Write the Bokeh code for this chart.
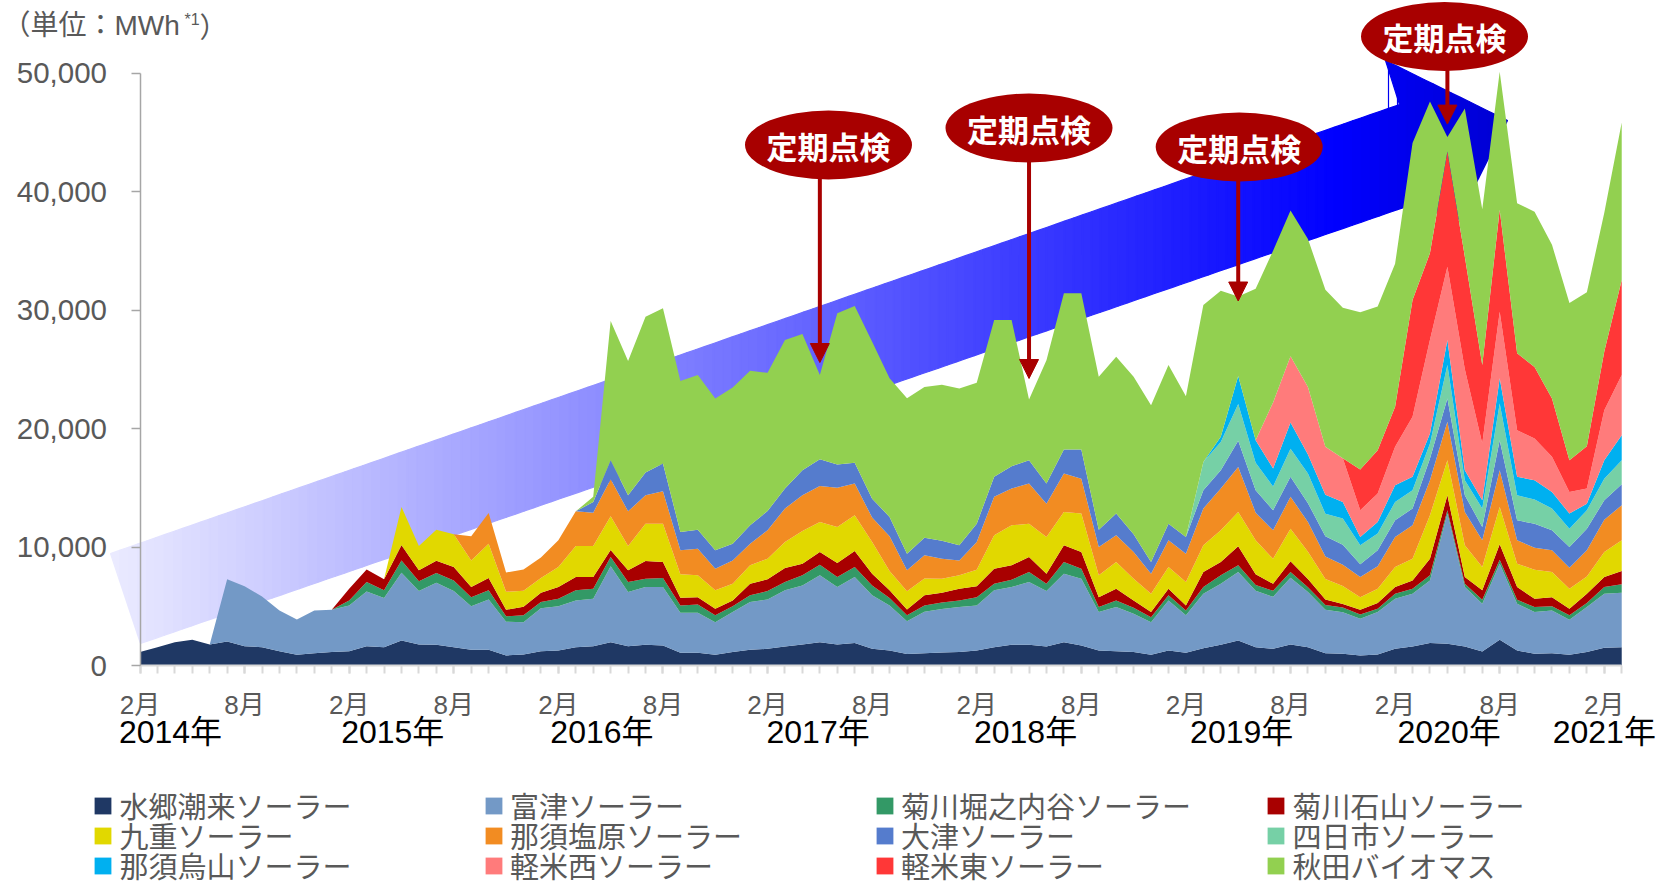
from bokeh.plotting import figure
from bokeh.models import (ColumnDataSource, Range1d, LinearAxis, FixedTicker,
                          NumeralTickFormatter, Legend, LegendItem, Label, Arrow, NormalHead)
from bokeh.embed import file_html
from bokeh.resources import INLINE

# ---------------- data (MWh per month, Feb 2014 .. Mar 2021) ----------------
months = list(range(86))
month_tick_pos = list(range(0, 86, 6))
month_tick_labels = ["2月", "8月"] * 7 + ["2月"]
year_labels = ["2014年", "2015年", "2016年", "2017年", "2018年", "2019年", "2020年", "2021年"]
year_label_pos = [1.75, 14.5, 26.5, 38.9, 50.8, 63.2, 75.1, 84.0]
y_ticks = [0, 10000, 20000, 30000, 40000, 50000]

names = ["水郷潮来ソーラー", "富津ソーラー", "菊川堀之内谷ソーラー", "菊川石山ソーラー",
         "九重ソーラー", "那須塩原ソーラー", "大津ソーラー", "四日市ソーラー",
         "那須烏山ソーラー", "軽米西ソーラー", "軽米東ソーラー", "秋田バイオマス"]

suigo_itako = [1130, 1550, 1970, 2170, 1770, 2030, 1630, 1550, 1210, 900,
               1040, 1130, 1210, 1630, 1550, 2110, 1770, 1750, 1550, 1320,
               1320, 850, 930, 1210, 1270, 1550, 1630, 1970, 1630, 1750,
               1690, 1070, 1070, 900, 1130, 1320, 1410, 1610, 1770, 1970,
               1770, 1890, 1410, 1270, 960, 1030, 1100, 1130, 1270, 1550,
               1750, 1750, 1610, 1970, 1690, 1270, 1210, 1130, 900, 1270,
               1070, 1460, 1750, 2110, 1550, 1410, 1770, 1550, 1040, 1000,
               850, 930, 1410, 1610, 1890, 1830, 1610, 1180, 2170, 1270,
               990, 1040, 900, 1130, 1490, 1550]
futtsu = [0, 0, 0, 0, 0, 5240, 5050, 4280, 3440, 2990,
          3610, 3570, 3860, 4620, 4140, 5720, 4510, 5240, 4730, 3690,
          4260, 2850, 2730, 3620, 3740, 3940, 4000, 6400, 4570, 4870,
          4930, 3380, 3380, 2760, 3380, 4030, 4170, 4730, 4990, 5640,
          4850, 5570, 4510, 3800, 2770, 3510, 3660, 3800, 3800, 4790,
          4870, 5290, 4670, 5780, 5630, 3240, 3720, 3240, 2760, 4220,
          3160, 4600, 5150, 5780, 4750, 4390, 5630, 4650, 3660, 3500,
          3090, 3580, 4220, 4450, 5290, 10990, 5010, 4030, 6420, 3940,
          3520, 3610, 2960, 3800, 4570, 4590]
kikugawa_horinouchi = [0, 0, 0, 0, 0, 0, 0, 0, 0, 0,
                       0, 0, 420, 790, 650, 1040, 820, 810, 900, 760,
                       760, 450, 570, 520, 620, 850, 850, 780, 840, 700,
                       760, 620, 700, 570, 480, 570, 700, 700, 850, 900,
                       840, 850, 840, 620, 500, 530, 560, 560, 700, 560,
                       620, 850, 620, 980, 850, 420, 560, 500, 420, 430,
                       420, 560, 710, 560, 500, 500, 500, 400, 400, 400,
                       370, 280, 430, 420, 430, 280, 280, 340, 340, 340,
                       420, 340, 370, 340, 560, 710]
kikugawa_ishiyama = [0, 0, 0, 0, 0, 0, 0, 0, 0, 0,
                     0, 0, 990, 1070, 930, 1270, 930, 1050, 1130, 850,
                     1040, 550, 730, 780, 990, 1120, 980, 600, 990, 1500,
                     1350, 650, 620, 560, 500, 980, 990, 1190, 980, 1070,
                     1190, 1350, 990, 650, 490, 850, 810, 990, 910, 1270,
                     1210, 1260, 850, 1410, 1410, 840, 990, 620, 430, 560,
                     420, 1270, 1120, 1610, 900, 600, 900, 700, 460, 300,
                     390, 480, 560, 700, 1390, 1270, 560, 790, 1300, 1070,
                     700, 780, 560, 790, 840, 1120]
kokonoe = [0, 0, 0, 0, 0, 0, 0, 0, 0, 0,
           0, 0, 0, 0, 0, 3240, 2050, 2610, 2760, 2250,
           2900, 1520, 1350, 1260, 1690, 2620, 2620, 2840, 2050, 3150,
           3240, 1970, 1840, 1550, 1410, 1550, 1740, 2190, 2760, 2530,
           3040, 3020, 2670, 1630, 1550, 1430, 1190, 1130, 1400, 2820,
           3380, 2820, 3100, 2820, 3240, 1840, 2250, 1830, 1550, 1830,
           1970, 2250, 2680, 2900, 2860, 2100, 2750, 2300, 1740, 1500,
           1070, 1210, 1690, 1830, 3680, 2950, 2680, 1970, 3150, 1970,
           2450, 2120, 1690, 1460, 2120, 2590]
nasu_shiobara = [0, 0, 0, 0, 0, 0, 0, 0, 0, 0,
                 0, 0, 0, 0, 0, 0, 0, 0, 0, 2030,
                 2590, 1630, 1800, 1720, 2250, 2930, 2820, 3130, 2930, 2400,
                 2730, 2030, 2250, 1830, 1970, 1830, 2400, 2820, 3020, 3040,
                 3320, 2670, 2060, 2930, 1760, 1950, 1680, 1260, 2340, 3240,
                 3100, 3380, 2810, 3240, 2950, 2390, 2260, 2260, 1690, 2250,
                 2400, 3100, 3520, 3800, 2340, 2410, 2680, 2500, 1900, 1800,
                 1690, 1890, 2540, 2820, 2950, 3240, 2820, 2250, 3100, 1970,
                 1860, 1830, 1770, 2200, 2730, 2960]
otsu = [0, 0, 0, 0, 0, 0, 0, 0, 0, 0,
        0, 0, 0, 0, 0, 0, 0, 0, 0, 0,
        0, 0, 0, 0, 0, 0, 900, 1600, 1360, 1910,
        2340, 1550, 1600, 1550, 1410, 1550, 1630, 1690, 2110, 2260,
        1950, 1750, 1600, 1640, 1410, 1480, 1520, 1270, 1550, 1690,
        1890, 1970, 1690, 2030, 2460, 1460, 1830, 1490, 980, 1410,
        1410, 1550, 1550, 2200, 1890, 1690, 1690, 1600, 1700, 1700,
        1080, 1350, 1400, 1410, 1830, 1980, 1410, 1130, 2530, 1690,
        2030, 1690, 1750, 1830, 1630, 1780]
yokkaichi = [0] * 60 + [0, 2390, 2390, 3100, 2310, 2000, 2380, 2500, 1900, 2200,
                        1600, 1410, 1550, 1550, 1270, 2810, 1260, 1550, 3100, 2120,
                        2030, 1830, 1550, 1550, 1830, 2020]
nasu_karasuyama = [0] * 60 + [0, 0, 430, 2360, 1910, 1520, 2200, 1600, 1600, 1400,
                              710, 980, 1410, 1130, 850, 2110, 850, 700, 2120, 1550,
                              1630, 1410, 1270, 560, 1550, 2120]
karumai_nishi = [0] * 60 + [0, 0, 0, 0, 0, 5580, 5600, 5700, 4050, 3700,
                            2250, 2400, 3240, 5070, 7920, 6200, 8520, 4790, 5630, 3940,
                            3520, 2960, 1830, 1270, 4230, 5070]
karumai_higashi = [0] * 70 + [3440, 3660, 3380, 9860, 7300, 9720, 9500, 6620, 8590, 6480,
                              6050, 4930, 2670, 3580, 4950, 8030]
akita_biomass = [0] * 20 + [0, 0, 0, 0, 0, 0, 430, 11750, 11320, 13160,
                            13100, 12730, 13050, 12820, 13180, 13040, 11660, 12530, 11490, 7100,
                            12760, 13240, 13240, 11690, 13120, 12720, 13180, 13240, 11890, 13230,
                            12330, 5130, 10420, 13180, 13180, 12910, 13240, 13300, 13240, 13380,
                            11880, 13240, 12330, 6710, 12790, 12800, 12300, 12500, 13250, 12700,
                            13260, 12130, 12070, 13250, 12800, 1220, 12500, 13150, 11650, 12660,
                            13100, 12960, 13280, 12990, 11700, 13290]

series = [suigo_itako, futtsu, kikugawa_horinouchi, kikugawa_ishiyama, kokonoe,
          nasu_shiobara, otsu, yokkaichi, nasu_karasuyama, karumai_nishi,
          karumai_higashi, akita_biomass]
for s in series:
    assert len(s) == 86, len(s)

colors = ["#1F3864", "#7399C6", "#339966", "#A80000", "#E1D800", "#F28C22",
          "#557CCD", "#76D0A6", "#00B0F0", "#FF7B7B", "#FF3737", "#92D050"]

# inspection callouts (May of each year)
insp_month = [39, 51, 63, 75]

# ---------------- geometry helpers (canvas pixel -> data) ----------------
W, H = 1665, 886
X0, Y0 = 139.5, 665.0
PXM = 17.432          # px per month
PXV = 11.85 / 1000.0  # px per MWh


def dx(X):
    return (X - X0) / PXM


def dy(Y):
    return (Y0 - Y) / PXV


p = figure(width=W, height=H, output_backend="svg", toolbar_location=None,
           x_range=Range1d(dx(0), dx(W)), y_range=Range1d(dy(H), dy(0)),
           x_axis_location=None, y_axis_location=None, min_border=0)
p.outline_line_color = None
p.grid.visible = False
p.background_fill_color = "white"
p.border_fill_color = "white"

# ---------------- big gradient arrow (decoration) ----------------
arrow_poly = [(110, 553), (1399, 104), (1385, 60), (1507, 120),
              (1446.5, 241), (1431.4, 197.3), (140, 643)]


def _clip(pts, inside, inter):
    out = []
    for j in range(len(pts)):
        cur, prev = pts[j], pts[j - 1]
        if inside(cur):
            if not inside(prev):
                out.append(inter(prev, cur))
            out.append(cur)
        elif inside(prev):
            out.append(inter(prev, cur))
    return out


def _ix(xc):
    def f(a, b):
        t = (xc - a[0]) / (b[0] - a[0])
        return (xc, a[1] + t * (b[1] - a[1]))
    return f


def clip_strip(poly, a, b):
    pts = _clip(poly, lambda q: q[0] >= a, _ix(a))
    if pts:
        pts = _clip(pts, lambda q: q[0] <= b, _ix(b))
    return pts


def arrow_color(xm):
    if xm <= 1335:
        t = (xm - 110) / (1335 - 110)
        c = max(0, min(255, round(235 * (1 - t))))
        return "#%02x%02xff" % (c, c)
    t = min(1.0, (xm - 1335) / (1507 - 1335))
    return "#0000%02x" % round(255 - 45 * t)


axs, ays, acs = [], [], []
edge = 110.0
step = 9.0
while edge < 1507:
    a, b = edge, min(edge + step, 1507)
    pts = clip_strip(arrow_poly, a, b)
    if len(pts) >= 3:
        axs.append([dx(q[0]) for q in pts])
        ays.append([dy(q[1]) for q in pts])
        acs.append(arrow_color((a + b) / 2))
    edge = b
p.patches(xs="xs", ys="ys", fill_color="c", line_color="c", line_width=1.2,
          source=ColumnDataSource(dict(xs=axs, ys=ays, c=acs)))

# ---------------- stacked areas ----------------
keys = ["s%d" % k for k in range(len(series))]
src = ColumnDataSource(dict(x=months, **{k: v for k, v in zip(keys, series)}))
areas = p.varea_stack(stackers=keys, x="x", color=colors, source=src)

# ---------------- axes ----------------
yax = LinearAxis(fixed_location=0, bounds=(0, 50000),
                 ticker=FixedTicker(ticks=y_ticks),
                 formatter=NumeralTickFormatter(format="0,0"))
yax.axis_line_color = "#A6A6A6"
yax.axis_line_width = 1.5
yax.major_tick_line_color = "#A6A6A6"
yax.major_tick_line_width = 1.5
yax.major_tick_out = 9
yax.major_tick_in = 0
yax.minor_tick_line_color = None
yax.major_label_standoff = 24
yax.major_label_text_font = "Liberation Sans"
yax.major_label_text_font_size = "29.5px"
yax.major_label_text_color = "#595959"
p.add_layout(yax, "left")

xax = LinearAxis(fixed_location=0, bounds=(0, 85),
                 ticker=FixedTicker(ticks=month_tick_pos, minor_ticks=months),
                 major_label_overrides={t: l for t, l in zip(month_tick_pos, month_tick_labels)})
xax.axis_line_color = "#D9D9D9"
xax.axis_line_width = 2
xax.major_tick_line_color = "#D9D9D9"
xax.minor_tick_line_color = "#D9D9D9"
xax.major_tick_line_width = 2
xax.minor_tick_line_width = 2
xax.major_tick_out = 8
xax.major_tick_in = 0
xax.minor_tick_out = 8
xax.minor_tick_in = 0
xax.major_label_standoff = 16
xax.major_label_text_font = "Liberation Sans Narrow, Liberation Sans, Noto Sans CJK JP"
xax.major_label_text_font_size = "26px"
xax.major_label_text_color = "#595959"
p.add_layout(xax, "below")

yrax = LinearAxis(fixed_location=0, bounds=(0, 85),
                  ticker=FixedTicker(ticks=year_label_pos),
                  major_label_overrides={t: l for t, l in zip(year_label_pos, year_labels)})
yrax.axis_line_color = None
yrax.major_tick_line_color = None
yrax.minor_tick_line_color = None
yrax.major_tick_out = 0
yrax.major_tick_in = 0
yrax.minor_tick_out = 0
yrax.major_label_standoff = 48
yrax.major_label_text_font = "Liberation Sans Narrow, Liberation Sans, Noto Sans CJK JP"
yrax.major_label_text_font_size = "32px"
yrax.major_label_text_color = "#000000"
p.add_layout(yrax, "below")

# ---------------- unit label ----------------
p.add_layout(Label(x=dx(2), y=dy(25), text="（単位：MWh", text_baseline="middle",
                   text_font="Liberation Sans, Noto Sans CJK JP", text_font_size="28px",
                   text_color="#595959"))
p.add_layout(Label(x=dx(184), y=dy(19), text="*1", text_baseline="middle",
                   text_font="Liberation Sans", text_font_size="16px", text_color="#595959"))
p.add_layout(Label(x=dx(199), y=dy(25), text="）", text_baseline="middle",
                   text_font="Noto Sans CJK JP", text_font_size="28px", text_color="#595959"))

# ---------------- inspection callouts ----------------
CALL = "#A80000"
ell_X = [828, 1028.5, 1238.7, 1444]
ell_Y = [144.5, 127.5, 146.5, 36]
tip_Y = [362, 378, 300.5, 123.6]
p.ellipse(x=[dx(v) for v in ell_X], y=[dy(v) for v in ell_Y], width=167, height=69,
          width_units="screen", height_units="screen", fill_color=CALL, line_color=None)
for m, ex, ey, ty in zip(insp_month, ell_X, ell_Y, tip_Y):
    p.add_layout(Arrow(end=NormalHead(size=19, fill_color=CALL, line_color=CALL),
                       x_start=m, y_start=dy(ey + 33), x_end=m, y_end=dy(ty),
                       line_color=CALL, line_width=4))
    p.add_layout(Label(x=dx(ex), y=dy(ey), text="定期点検", text_align="center",
                       text_baseline="middle", text_color="white",
                       text_font="Noto Sans CJK JP", text_font_style="bold",
                       text_font_size="31px"))

# ---------------- legend (4 columns x 3 rows) ----------------
leg_col_X = [94.5, 485, 876, 1267.5]   # swatch left edge
leg_row_Y = [805, 835, 865]            # row centre
GLY = 21                               # area swatch is drawn at 80% of the glyph box
ITEM_HALF = 21                         # half of the measured legend item height
for k, r in enumerate(areas):
    row, col = divmod(k, 4)
    lg = Legend(items=[LegendItem(label=names[k], renderers=[r])],
                location=(leg_col_X[col] - 0.1 * GLY, H - leg_row_Y[row] - ITEM_HALF),
                orientation="vertical", glyph_width=GLY, glyph_height=GLY,
                label_standoff=6, padding=0, margin=0, spacing=0,
                border_line_color=None, background_fill_alpha=0,
                label_text_font="Liberation Sans, Noto Sans CJK JP",
                label_text_font_size="29px", label_text_color="#595959")
    p.add_layout(lg)

open("out.html", "w").write(file_html(p, INLINE))
